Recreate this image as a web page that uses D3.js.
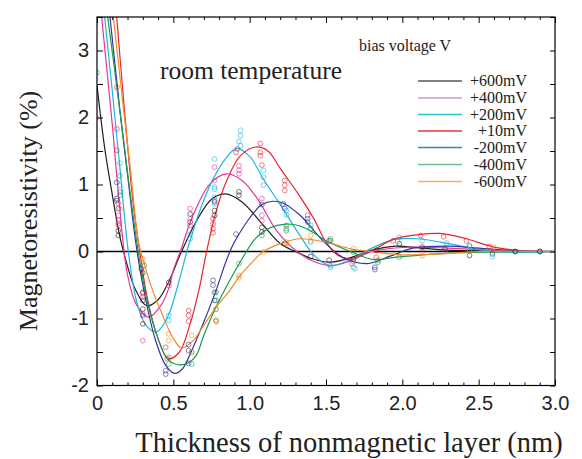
<!DOCTYPE html>
<html><head><meta charset="utf-8">
<script src="https://cdn.jsdelivr.net/npm/d3@7/dist/d3.min.js"></script>
<style>body{margin:0;background:#fff}svg{display:block}</style>
</head><body>
<svg id="c" width="582" height="459"></svg>
<script>
// ---------------- data ----------------
const seriesNames = ["+600mV","+400mV","+200mV","+10mV","-200mV","-400mV","-600mV"];
const lineColors  = ["#222222","#e4369a","#1bb6e6","#e8252c","#34349c","#169c4a","#f28a26"];
const legendColors= ["#555555","#c49ad6","#26c4d8","#e83434","#3a80c2","#6cc48e","#f7ae6c"];
const xTickLabels = ["0","0.5","1.0","1.5","2.0","2.5","3.0"];
const xTickValues = [0,0.5,1,1.5,2,2.5,3];
const yTickLabels = ["-2","-1","0","1","2","3"];
const yTickValues = [-2,-1,0,1,2,3];

// fitted curves [x, y]
const curve600 = [[0,2.48],[0.05,1.55],[0.1,0.85],[0.15,0.22],[0.2,-0.22],[0.25,-0.56],[0.325,-0.81],[0.4,-0.72],[0.47,-0.45],[0.55,-0.02],[0.65,0.45],[0.75,0.78],[0.84,0.86],[0.95,0.74],[1.09,0.39],[1.2,0.12],[1.3,0.0],[1.4,-0.1],[1.52,-0.16],[1.65,-0.1],[1.8,0.02],[1.96,0.08],[2.12,0.05],[2.3,0.02],[2.5,0.01],[2.75,0.0],[3.0,0.0]];
const curve400 = [[0,4.2],[0.05,3.05],[0.1,1.9],[0.15,0.62],[0.2,-0.35],[0.26,-0.8],[0.34,-0.98],[0.42,-0.8],[0.47,-0.55],[0.5,-0.28],[0.55,0.03],[0.62,0.49],[0.74,1.01],[0.85,1.16],[0.95,1.06],[1.05,0.79],[1.18,0.3],[1.31,0.0],[1.42,-0.15],[1.53,-0.21],[1.65,-0.15],[1.8,0.0],[2.0,0.06],[2.2,0.06],[2.4,0.04],[2.7,0.01],[3.0,0.0]];
const curve200 = [[0,4.6],[0.05,3.5],[0.1,2.4],[0.15,1.25],[0.205,0.0],[0.26,-0.75],[0.32,-1.1],[0.39,-1.2],[0.467,-0.955],[0.53,-0.5],[0.6,0.09],[0.68,0.65],[0.76,1.08],[0.84,1.38],[0.915,1.54],[1.0,1.42],[1.09,1.08],[1.2,0.7],[1.32,0.27],[1.42,-0.05],[1.52,-0.21],[1.65,-0.13],[1.8,0.05],[1.95,0.18],[2.1,0.19],[2.25,0.14],[2.42,0.065],[2.6,0.0],[2.8,-0.01],[3.0,0.0]];
const curve10  = [[0,6.6],[0.08,4.7],[0.129,3.5],[0.18,2.1],[0.235,0.76],[0.28,0.0],[0.33,-0.7],[0.4,-1.3],[0.467,-1.6],[0.54,-1.5],[0.61,-1.08],[0.67,-0.55],[0.718,0.0],[0.78,0.6],[0.85,1.06],[0.94,1.43],[1.04,1.56],[1.12,1.5],[1.2,1.24],[1.33,0.82],[1.42,0.49],[1.5,0.14],[1.58,-0.06],[1.65,-0.11],[1.79,0.0],[1.94,0.18],[2.1,0.25],[2.245,0.27],[2.42,0.19],[2.6,0.065],[2.8,0.01],[3.0,0.0]];
const curveM200= [[0,5.3],[0.085,3.5],[0.15,2.1],[0.2,1.15],[0.25,0.2],[0.3,-0.5],[0.38,-1.3],[0.45,-1.7],[0.51,-1.82],[0.56,-1.75],[0.62,-1.48],[0.7,-1.05],[0.78,-0.58],[0.84,-0.18],[0.88,0.05],[0.92,0.22],[1.0,0.5],[1.08,0.7],[1.155,0.75],[1.22,0.72],[1.33,0.54],[1.48,0.16],[1.61,-0.085],[1.77,-0.18],[1.92,-0.07],[2.07,0.05],[2.3,0.08],[2.5,0.05],[2.75,0.01],[3.0,0.0]];
const curveM400= [[0,4.7],[0.07,3.5],[0.15,2.1],[0.21,1.0],[0.27,0.0],[0.33,-0.75],[0.4,-1.3],[0.46,-1.6],[0.533,-1.69],[0.6,-1.66],[0.65,-1.55],[0.7,-1.25],[0.78,-0.83],[0.87,-0.43],[0.94,-0.15],[1.04,0.2],[1.14,0.36],[1.24,0.41],[1.33,0.38],[1.42,0.28],[1.5,0.16],[1.66,0.0],[1.81,-0.12],[1.96,-0.085],[2.2,-0.04],[2.5,-0.01],[3.0,0.0]];
const curveM600= [[0,5.8],[0.107,3.5],[0.17,2.2],[0.22,1.2],[0.27,0.16],[0.3,-0.11],[0.36,-0.55],[0.435,-0.98],[0.5,-1.3],[0.555,-1.44],[0.63,-1.33],[0.7,-1.1],[0.78,-0.83],[0.87,-0.58],[0.94,-0.35],[1.02,-0.15],[1.09,0.0],[1.23,0.14],[1.33,0.19],[1.5,0.14],[1.66,0.04],[1.8,0.0],[2.0,-0.05],[2.2,-0.04],[2.5,0.0],[3.0,0.0]];

// measured points [x, y]
const pts600 = [[0.13,0.76],[0.14,0.31],[0.14,0.24],[0.3,-0.32],[0.3,-0.61],[0.3,-0.73],[0.3,-0.86],[0.3,-1.08],[0.47,-0.46],[0.61,0.56],[0.61,0.44],[0.77,0.74],[0.77,0.61],[0.77,0.54],[0.93,0.89],[0.93,0.84],[1.08,0.36],[1.08,0.29],[1.23,0.12],[1.4,-0.075],[1.52,-0.13],[1.68,-0.11],[1.83,0.015],[1.98,0.115],[2.13,0.065],[2.28,0.04],[2.44,-0.06],[2.59,-0.035],[2.74,0.0],[2.9,0.0]];
const pts400 = [[0.14,0.72],[0.14,0.54],[0.14,0.46],[0.14,0.39],[0.3,-0.63],[0.3,-0.68],[0.3,-0.93],[0.3,-1.33],[0.47,-0.51],[0.61,0.64],[0.61,0.49],[0.61,0.39],[0.77,1.26],[0.77,1.06],[0.77,0.76],[0.93,1.28],[0.93,1.21],[0.93,1.16],[1.08,0.79],[1.08,0.54],[1.08,0.46],[1.52,-0.19],[1.68,-0.15],[2.13,0.04],[2.28,0.025]];
const pts200 = [[0.15,1.32],[0.15,0.99],[0.47,-0.955],[0.47,-1.03],[0.61,0.26],[0.61,0.19],[0.77,1.38],[0.77,0.96],[0.77,0.93],[0.77,0.81],[0.77,0.71],[0.94,1.81],[0.94,1.73],[0.93,1.64],[0.94,1.58],[1.09,1.21],[1.09,1.11],[1.09,0.99],[1.24,0.61],[1.24,0.55],[1.4,0.39],[1.4,0.14],[1.53,-0.235],[1.53,-0.21],[1.68,-0.235],[1.69,-0.26],[1.98,0.21],[1.97,0.15],[2.13,0.16],[2.29,0.125],[2.44,0.07],[2.59,-0.075]];
const pts10  = [[0.13,2.45],[0.13,1.83],[0.13,1.51],[0.14,0.42],[0.45,-1.43],[0.46,-1.6],[0.6,-0.88],[0.6,-0.955],[0.6,-1.04],[0.76,0.49],[0.76,0.41],[0.76,0.34],[0.76,0.28],[0.92,1.53],[0.91,1.48],[1.07,1.61],[1.07,1.48],[1.07,1.43],[1.08,1.29],[1.23,1.06],[1.23,0.99],[1.23,0.91],[1.38,0.54],[1.67,-0.18],[1.83,-0.085],[1.94,0.16],[2.12,0.24],[2.27,0.22],[2.42,0.16],[2.57,0.075]];
const ptsM200= [[0.13,1.03],[0.13,0.79],[0.14,0.64],[0.29,-0.26],[0.3,-0.955],[0.45,-1.78],[0.45,-1.83],[0.6,-1.39],[0.6,-1.48],[0.6,-1.67],[0.76,-0.43],[0.76,-0.5],[0.77,-0.61],[0.77,-0.73],[0.91,0.26],[1.08,0.7],[1.22,0.71],[1.23,0.64],[1.38,0.49],[1.38,0.44],[1.52,0.16],[1.82,-0.235],[1.82,-0.27],[2.74,0.0],[2.9,0.0]];
const ptsM400= [[0.0,2.67],[0.15,1.13],[0.15,0.89],[0.15,0.84],[0.31,-0.21],[0.47,-1.58],[0.47,-1.68],[0.62,-1.5],[0.62,-1.68],[0.78,-0.61],[0.78,-0.73],[0.78,-0.86],[0.78,-1.03],[0.93,-0.18],[1.08,0.24],[1.24,0.39],[1.24,0.34],[1.24,0.31],[1.4,0.34],[1.53,0.19],[1.53,0.16],[1.68,-0.01],[1.84,-0.13],[1.84,-0.16],[1.98,-0.085],[2.44,0.09]];
const ptsM600= [[0.0,2.0],[0.15,0.64],[0.3,-0.11],[0.3,-0.17],[0.47,-1.23],[0.47,-1.33],[0.62,-1.25],[0.62,-1.5],[0.78,-0.86],[0.78,-1.03],[0.78,-1.05],[0.93,-0.36],[0.93,-0.39],[1.09,-0.01],[1.24,0.115],[1.24,0.14],[1.4,0.24],[1.4,0.16],[1.68,0.04],[2.13,-0.06],[2.44,0.025],[2.6,0.065]];

const curves = [curve600,curve400,curve200,curve10,curveM200,curveM400,curveM600];
const points = [pts600,pts400,pts200,pts10,ptsM200,ptsM400,ptsM600];

// ---------------- layout ----------------
const svg = d3.select("#c");
const L=97, R=555, T=17, B=385.5;
const x = d3.scaleLinear().domain([0,3]).range([L,R]);
const y = d3.scaleLinear().domain([-2,3.5]).range([B,T]);
const serif = "'Liberation Serif','Times New Roman',serif";
const sans = "'Liberation Sans',Arial,sans-serif";

svg.append("defs").append("clipPath").attr("id","clip")
  .append("rect").attr("x",L).attr("y",T).attr("width",R-L).attr("height",B-T);

const plot = svg.append("g").attr("clip-path","url(#clip)");

// zero line
plot.append("line").attr("x1",L).attr("x2",R).attr("y1",y(0)).attr("y2",y(0))
  .attr("stroke","#000").attr("stroke-width",1.6);

const line = d3.line().x(d=>x(d[0])).y(d=>y(d[1])).curve(d3.curveCatmullRom.alpha(0.5));
curves.forEach((c,i)=>{
  plot.append("path").datum(c).attr("d",line).attr("fill","none")
    .attr("stroke",lineColors[i]).attr("stroke-width",1.2);
});
points.forEach((p,i)=>{
  plot.selectAll(null).data(p).join("circle")
    .attr("cx",d=>x(d[0])).attr("cy",d=>y(d[1])).attr("r",2.4)
    .attr("fill","none").attr("stroke",lineColors[i]).attr("stroke-width",0.8).attr("opacity",0.75);
});

// axes
function styleAxis(g){ g.select(".domain").remove(); g.selectAll("line").attr("stroke","#000").attr("stroke-width",1); }
const minorX = d3.range(0,3.001,0.1).filter(v=>Math.abs(v*2-Math.round(v*2))>1e-6);
const yTicksAll = d3.range(-2,3.501,0.5);

svg.append("g").attr("transform",`translate(0,${B})`)
  .call(d3.axisBottom(x).tickValues(xTickValues).tickFormat((d,i)=>xTickLabels[i]).tickSize(-6).tickPadding(10))
  .call(styleAxis).call(g=>g.selectAll("text").attr("font-family",sans).attr("font-size",20).attr("fill","#222"));
svg.append("g").attr("transform",`translate(0,${B})`)
  .call(d3.axisBottom(x).tickValues(minorX).tickFormat("").tickSize(-3)).call(styleAxis);
svg.append("g").attr("transform",`translate(0,${T})`)
  .call(d3.axisTop(x).tickValues(xTickValues).tickFormat("").tickSize(-6)).call(styleAxis);
svg.append("g").attr("transform",`translate(0,${T})`)
  .call(d3.axisTop(x).tickValues(minorX).tickFormat("").tickSize(-3)).call(styleAxis);

svg.append("g").attr("transform",`translate(${L},0)`)
  .call(d3.axisLeft(y).tickValues(yTickValues).tickFormat((d,i)=>yTickLabels[i]).tickSize(0).tickPadding(8))
  .call(styleAxis).call(g=>g.selectAll("text").attr("font-family",sans).attr("font-size",20).attr("fill","#222"));
svg.append("g").attr("transform",`translate(${L},0)`)
  .call(d3.axisLeft(y).tickValues(yTicksAll).tickFormat("").tickSize(-6)).call(styleAxis);
svg.append("g").attr("transform",`translate(${R},0)`)
  .call(d3.axisRight(y).tickValues(yTicksAll).tickFormat("").tickSize(-5)).call(styleAxis);

// frame
svg.append("rect").attr("x",L).attr("y",T).attr("width",R-L).attr("height",B-T)
  .attr("fill","none").attr("stroke","#000").attr("stroke-width",1.2);

// titles
svg.append("text").attr("x",349).attr("y",452).attr("text-anchor","middle")
  .attr("font-family",serif).attr("font-size",28.5).attr("fill","#222")
  .text("Thickness of nonmagnetic layer (nm)");
svg.append("text").attr("transform","translate(37,211) rotate(-90)").attr("text-anchor","middle")
  .attr("font-family",serif).attr("font-size",26).attr("fill","#222")
  .text("Magnetoresistivity (%)");
svg.append("text").attr("x",160).attr("y",79).attr("font-family",serif).attr("font-size",25.5).attr("fill","#222")
  .text("room temperature");
svg.append("text").attr("x",359).attr("y",51).attr("font-family",serif).attr("font-size",16).attr("fill","#222")
  .text("bias voltage V");

// legend
const legRows = [81,98,114.5,131,147.5,164.5,181.5];
const leg = svg.append("g");
seriesNames.forEach((n,i)=>{
  leg.append("line").attr("x1",418).attr("x2",462).attr("y1",legRows[i]).attr("y2",legRows[i])
    .attr("stroke",legendColors[i]).attr("stroke-width",1.4);
  leg.append("text").attr("x",527).attr("y",legRows[i]+5).attr("text-anchor","end")
    .attr("font-family",serif).attr("font-size",16).attr("fill","#222").text(n);
});
</script>
</body></html>
